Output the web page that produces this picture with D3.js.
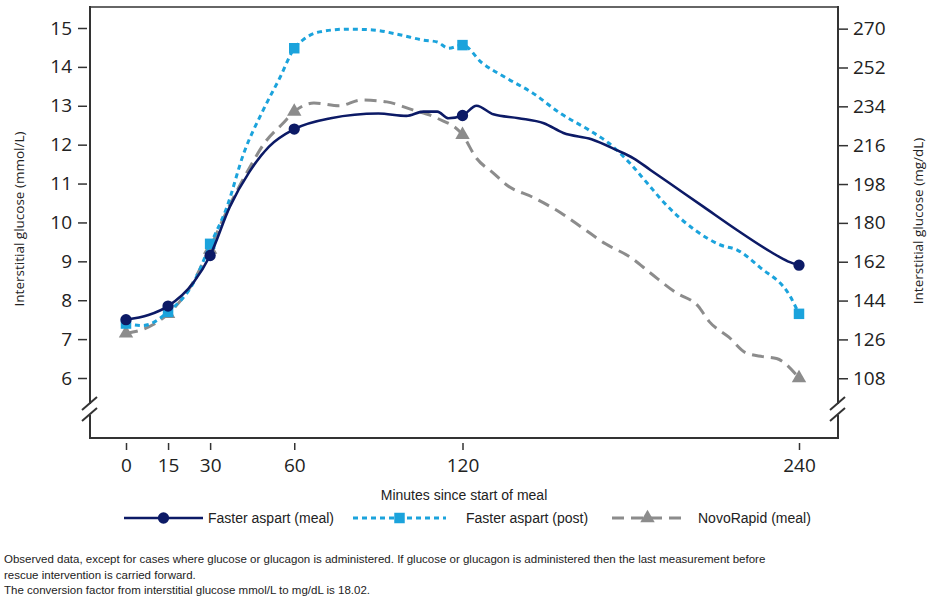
<!DOCTYPE html>
<html>
<head>
<meta charset="utf-8">
<script src="https://cdn.jsdelivr.net/npm/d3@7"></script>
<style>
  body { margin: 0; background: #fff; }
  svg { display: block; }
  text { font-family: "Open Sans", "Liberation Sans", sans-serif; fill: #222; }
</style>
</head>
<body>
<svg id="root" width="928" height="603"></svg>
<script>
const d3 = window.d3

// minutes since start of meal, interstitial glucose (mmol/L)
const mealTimes = [0, 8, 15, 24, 30, 37, 44, 51, 60, 73, 90, 100, 106, 111, 115, 120, 125, 131, 140, 149, 156, 166, 175, 181, 187, 194, 206, 218, 230, 236, 240]
const mealValues = [7.5, 7.62, 7.85, 8.45, 9.15, 10.4, 11.3, 11.95, 12.4, 12.68, 12.8, 12.74, 12.85, 12.85, 12.68, 12.75, 13.0, 12.78, 12.68, 12.55, 12.3, 12.14, 11.86, 11.65, 11.35, 11.0, 10.4, 9.8, 9.24, 9.0, 8.9]

const postTimes = [0, 6, 15, 24, 30, 36, 42, 49, 55, 60, 63, 69, 79, 88, 98, 106, 111, 115, 120, 127, 136, 145, 155, 165, 172, 180, 186, 192, 203, 212, 218, 226, 237, 240]
const postValues = [7.4, 7.35, 7.7, 8.44, 9.42, 10.4, 11.78, 12.9, 13.74, 14.48, 14.69, 14.9, 14.97, 14.95, 14.82, 14.69, 14.64, 14.48, 14.56, 14.1, 13.7, 13.33, 12.8, 12.38, 12.05, 11.5, 11.0, 10.5, 9.8, 9.42, 9.29, 8.85, 8.08, 7.65]

const novoTimes = [0, 6, 15, 23, 30, 36, 43, 50, 56, 60, 67, 76, 84, 93, 102, 111, 120, 125, 131, 136, 145, 155, 163, 171, 180, 187, 196, 204, 208, 215, 221, 227, 232, 240]
const novoValues = [7.15, 7.25, 7.65, 8.35, 9.35, 10.3, 11.27, 12.1, 12.55, 12.85, 13.07, 13.0, 13.15, 13.1, 12.9, 12.68, 12.25, 11.65, 11.27, 10.95, 10.65, 10.25, 9.85, 9.45, 9.1, 8.7, 8.2, 7.85, 7.45, 7.05, 6.65, 6.55, 6.5, 6.0]

// scheduled measurement points (markers)
const markerTimes = [0, 15, 30, 60, 120, 240]
const mealMarkers = [7.5, 7.85, 9.15, 12.4, 12.75, 8.9]
const postMarkers = [7.4, 7.7, 9.45, 14.48, 14.56, 7.65]
const novoMarkers = [7.15, 7.65, 9.3, 12.85, 12.25, 6.0]

const xTicks = [0, 15, 30, 60, 120, 240]
const leftTicks = [6, 7, 8, 9, 10, 11, 12, 13, 14, 15]
const rightTicks = [108, 126, 144, 162, 180, 198, 216, 234, 252, 270]

const seriesNames = ['Faster aspart (meal)', 'Faster aspart (post)', 'NovoRapid (meal)']
const seriesColors = ['#0c1a66', '#1ba3dc', '#8c8c8c']

const footnotes = [
  'Observed data, except for cases where glucose or glucagon is administered. If glucose or glucagon is administered then the last measurement before',
  'rescue intervention is carried forward.',
  'The conversion factor from interstitial glucose mmol/L to mg/dL is 18.02.'
]

const svg = d3.select('#root')

const plotLeft = 90
const plotRight = 838
const plotTop = 7
const plotBottom = 438

const x = d3.scaleLinear().domain([0, 240]).range([126, 799])
const y = d3.scaleLinear().domain([6, 15]).range([378, 28])
const yRight = d3.scaleLinear().domain([6 * 18.02, 15 * 18.02]).range([378, 28])

// frame
const axisColor = '#333'
svg.append('line')
  .attr('x1', plotLeft).attr('x2', plotRight).attr('y1', plotTop).attr('y2', plotTop)
  .attr('stroke', '#666').attr('stroke-width', 2)
svg.append('line')
  .attr('x1', plotLeft).attr('x2', plotRight).attr('y1', plotBottom).attr('y2', plotBottom)
  .attr('stroke', axisColor).attr('stroke-width', 2)

// vertical axis lines with a break
const breakTop = 404
const breakBottom = 415
;[plotLeft, plotRight].forEach(xx => {
  svg.append('line')
    .attr('x1', xx).attr('x2', xx).attr('y1', plotTop - 1).attr('y2', breakTop)
    .attr('stroke', axisColor).attr('stroke-width', 2)
  svg.append('line')
    .attr('x1', xx).attr('x2', xx).attr('y1', breakBottom).attr('y2', plotBottom + 1)
    .attr('stroke', axisColor).attr('stroke-width', 2)
  ;[breakTop, breakBottom].forEach(yy => {
    svg.append('line')
      .attr('x1', xx - 8).attr('y1', yy + 6)
      .attr('x2', xx + 7).attr('y2', yy - 7)
      .attr('stroke', axisColor).attr('stroke-width', 2)
  })
})

// axes
const tickFont = '19px'
const leftAxis = svg.append('g')
  .attr('transform', `translate(${plotLeft - 3}, 0)`)
  .call(d3.axisLeft(y).tickValues(leftTicks).tickSize(9).tickPadding(6).tickSizeOuter(0))
const rightAxis = svg.append('g')
  .attr('transform', `translate(${plotRight + 1}, 0)`)
  .call(d3.axisRight(yRight).tickValues(rightTicks).tickFormat(d3.format('d')).tickSize(9).tickPadding(5).tickSizeOuter(0))
const bottomAxis = svg.append('g')
  .attr('transform', `translate(0, ${plotBottom + 5})`)
  .call(d3.axisBottom(x).tickValues(xTicks).tickSize(7).tickPadding(9).tickSizeOuter(0))

;[leftAxis, rightAxis, bottomAxis].forEach(g => {
  g.select('.domain').remove()
  g.selectAll('.tick line').attr('stroke', axisColor).attr('stroke-width', 1.5)
  g.selectAll('.tick text')
    .style('font-family', '"Open Sans", sans-serif')
    .style('font-size', tickFont)
    .attr('fill', '#222')
})

// axis titles
svg.append('text')
  .attr('transform', 'translate(24, 219) rotate(-90)')
  .attr('text-anchor', 'middle')
  .style('font-size', '13.5px')
  .text('Interstitial glucose (mmol/L)')
svg.append('text')
  .attr('transform', 'translate(923, 221) rotate(-90)')
  .attr('text-anchor', 'middle')
  .style('font-size', '13.5px')
  .text('Interstitial glucose (mg/dL)')
svg.append('text')
  .attr('x', (plotLeft + plotRight) / 2)
  .attr('y', 500)
  .attr('text-anchor', 'middle')
  .style('font-family', '"Liberation Sans", Arial, sans-serif')
  .style('font-size', '14px')
  .text('Minutes since start of meal')

// lines
const lineGen = d3.line()
  .x(d => x(d[0]))
  .y(d => y(d[1]))
  .curve(d3.curveMonotoneX)

const series = [
  { times: mealTimes, values: mealValues, markers: mealMarkers, dash: null, width: 2.6, shape: d3.symbolCircle, size: 100 },
  { times: postTimes, values: postValues, markers: postMarkers, dash: '5,4', width: 3, shape: d3.symbolSquare, size: 110 },
  { times: novoTimes, values: novoValues, markers: novoMarkers, dash: '12,7', width: 3, shape: d3.symbolTriangle, size: 90 }
]

// draw in order: novo, post, meal on top
;[2, 1, 0].forEach(i => {
  const s = series[i]
  const pts = s.times.map((t, j) => [t, s.values[j]])
  svg.append('path')
    .datum(pts)
    .attr('d', lineGen)
    .attr('fill', 'none')
    .attr('stroke', seriesColors[i])
    .attr('stroke-width', s.width)
    .attr('stroke-dasharray', s.dash)
    .attr('stroke-linejoin', 'round')

  svg.selectAll(null)
    .data(markerTimes.map((t, j) => [t, s.markers[j]]))
    .enter()
    .append('path')
    .attr('d', d3.symbol().type(s.shape).size(s.size))
    .attr('transform', d => `translate(${x(d[0])}, ${y(d[1])})`)
    .attr('fill', seriesColors[i])
})

// legend
const legendY = 518
const legendItems = [
  { x1: 124, x2: 203, text: 208 },
  { x1: 353, x2: 446, text: 466 },
  { x1: 612, x2: 683, text: 698 }
]
legendItems.forEach((li, i) => {
  const s = series[i]
  svg.append('line')
    .attr('x1', li.x1).attr('x2', li.x2)
    .attr('y1', legendY).attr('y2', legendY)
    .attr('stroke', seriesColors[i])
    .attr('stroke-width', s.width)
    .attr('stroke-dasharray', s.dash)
  svg.append('path')
    .attr('d', d3.symbol().type(s.shape).size(s.size))
    .attr('transform', `translate(${(li.x1 + li.x2) / 2}, ${legendY})`)
    .attr('fill', seriesColors[i])
  svg.append('text')
    .attr('x', li.text)
    .attr('y', legendY + 5)
    .style('font-family', '"Liberation Sans", Arial, sans-serif')
    .style('font-size', '14px')
    .text(seriesNames[i])
})

// footnotes
footnotes.forEach((t, i) => {
  svg.append('text')
    .attr('x', 4)
    .attr('y', 563 + i * 15.5)
    .style('font-family', '"Liberation Sans Narrow", "Liberation Sans", Arial, sans-serif')
    .style('font-size', '11.5px')
    .attr('fill', '#333')
    .text(t)
})
</script>
</body>
</html>
